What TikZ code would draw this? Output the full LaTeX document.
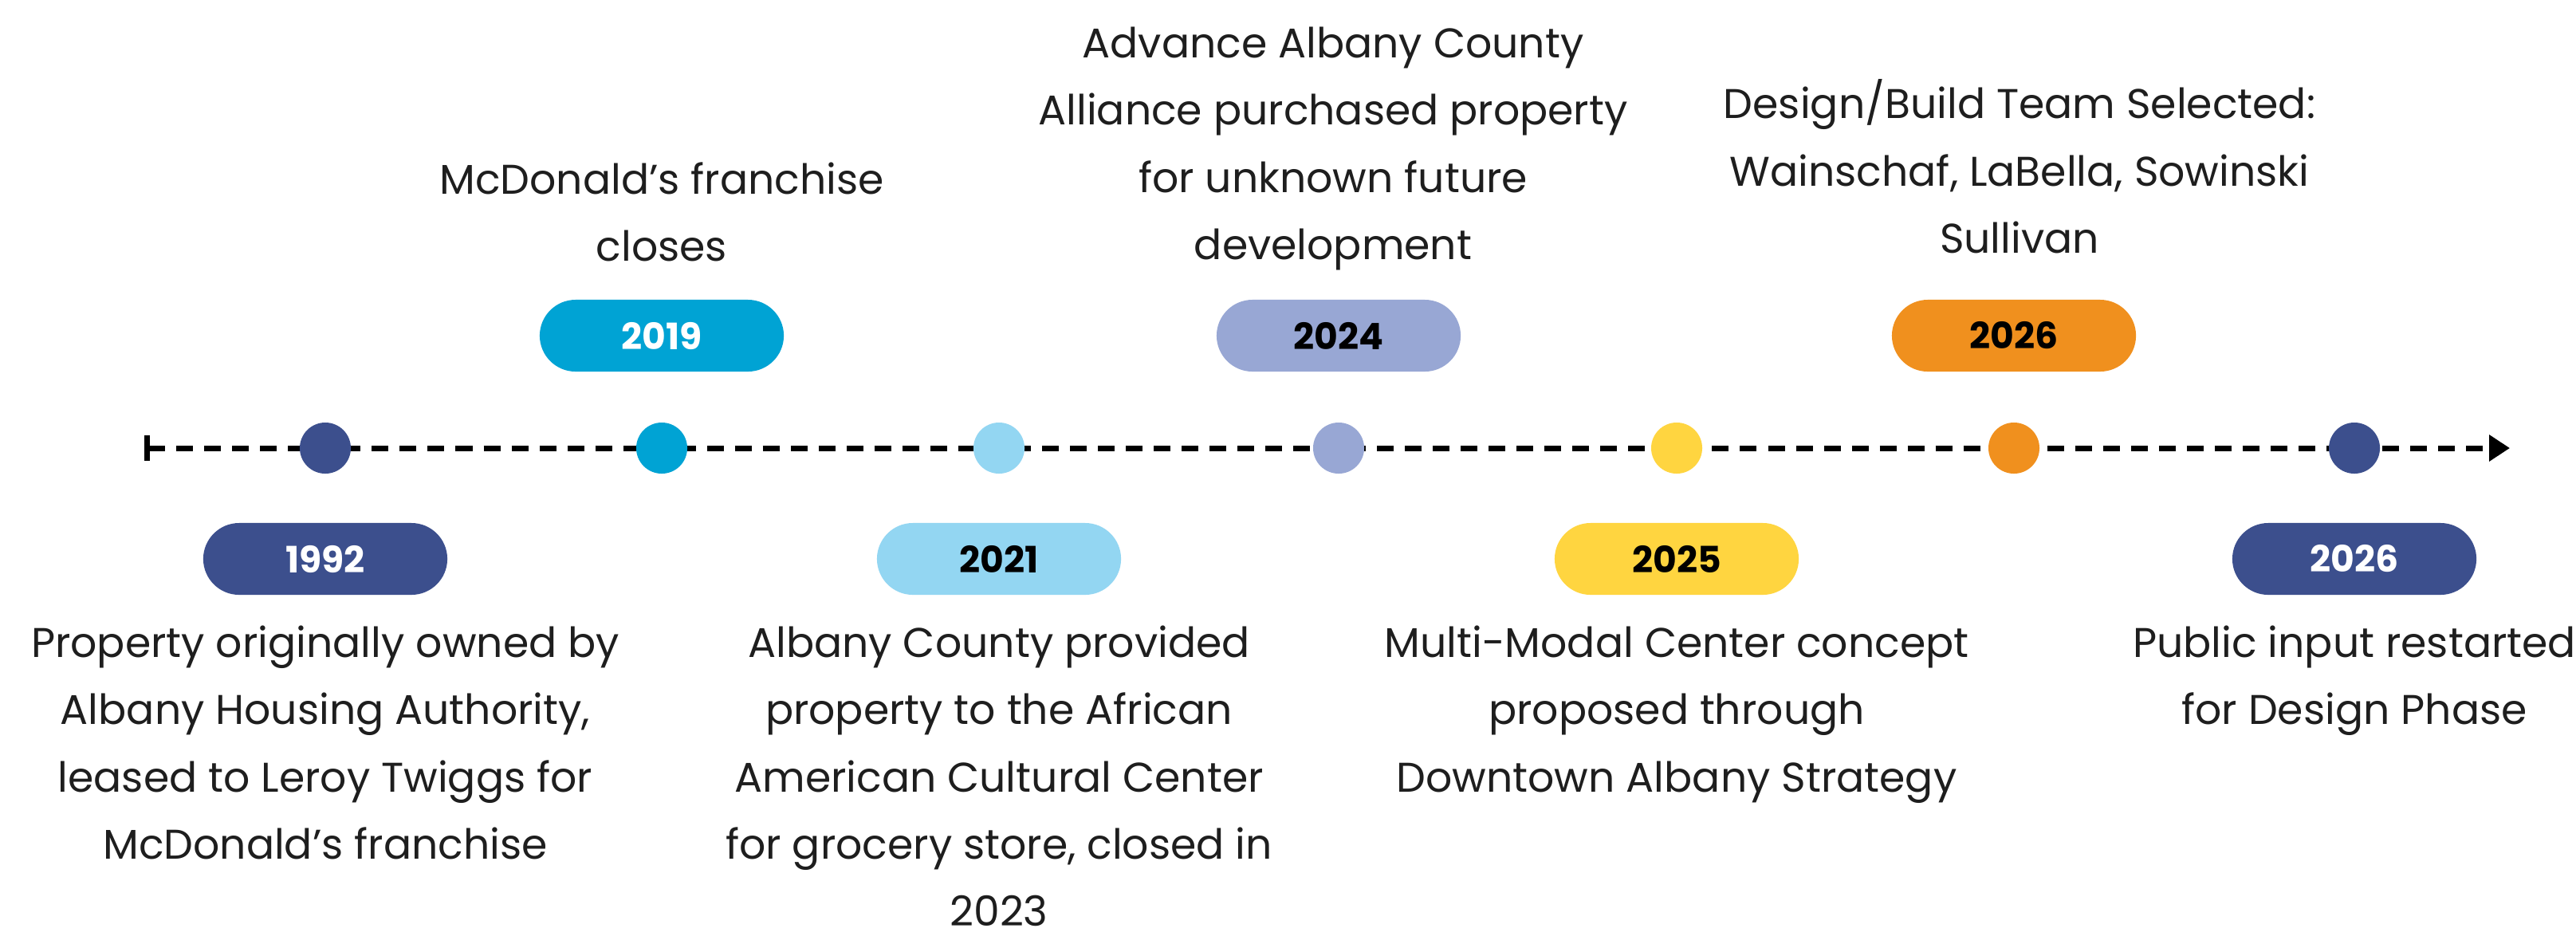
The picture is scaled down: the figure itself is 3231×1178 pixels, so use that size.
\documentclass[tikz,border=0pt]{standalone}
\usepackage{fontspec}
\setmainfont{Poppins}
\usetikzlibrary{arrows.meta}
\definecolor{navy}{HTML}{3C4F8D}
\definecolor{cyanb}{HTML}{00A3D4}
\definecolor{lightb}{HTML}{93D6F2}
\definecolor{lav}{HTML}{98A7D4}
\definecolor{yel}{HTML}{FFD540}
\definecolor{orng}{HTML}{F0901E}
\definecolor{txt}{HTML}{1E1E1E}
\begin{document}
\begin{tikzpicture}[x=0.01cm,y=-0.01cm,
  desc/.style={align=center, inner sep=0pt, anchor=north, text=txt, font=\fontsize{14.8}{24}\selectfont},
  pill/.style={rounded corners=0.45cm, minimum width=3.06cm, minimum height=0.9cm, inner sep=0pt, font=\fontsize{13}{15}\selectfont\bfseries},
  dot/.style={circle, minimum size=0.64cm, inner sep=0pt},
  timeline/.style={line width=0.07cm, dash pattern=on 0.21cm off 0.14cm, arrows={Bar[width=0.32cm]-Triangle[length=0.26cm,width=0.32cm]}}]
\fill[white] (0,0) rectangle (3231,1178);
\useasboundingbox (0,0) rectangle (3231,1178);
% timeline
\coordinate (tstart) at (181,562);
\coordinate (tend) at (3148,562);
\draw[timeline] (tstart) -- (tend);
% dots
\node[dot, fill=navy]   (d1) at (408,562) {};
\node[dot, fill=cyanb]  (d2) at (830,562) {};
\node[dot, fill=lightb] (d3) at (1253,562) {};
\node[dot, fill=lav]    (d4) at (1679,562) {};
\node[dot, fill=yel]    (d5) at (2103,562) {};
\node[dot, fill=orng]   (d6) at (2526,562) {};
\node[dot, fill=navy]   (d7) at (2953,562) {};
% pills
\node[pill, fill=navy, text=white]  (p1) at (408,701) {1992};
\node[pill, fill=cyanb, text=white] (p2) at (830,421) {2019};
\node[pill, fill=lightb, text=black] (p3) at (1253,701) {2021};
\node[pill, fill=lav, text=black]   (p4) at (1679,421) {2024};
\node[pill, fill=yel, text=black]   (p5) at (2103,701) {2025};
\node[pill, fill=orng, text=black]  (p6) at (2526,421) {2026};
\node[pill, fill=navy, text=white]  (p7) at (2953,701) {2026};
% descriptions
\node[desc] (t1) at (408,784) {Property originally owned by\\Albany Housing Authority,\\leased to Leroy Twiggs for\\McDonald's franchise};
\node[desc] (t2) at (830,203) {McDonald's franchise\\closes};
\node[desc] (t3) at (1253,784) {Albany County provided\\property to the African\\American Cultural Center\\for grocery store, closed in\\2023};
\node[desc] (t4) at (1672,33) {Advance Albany County\\Alliance purchased property\\for unknown future\\development};
\node[desc] (t5) at (2103,784) {Multi-Modal Center concept\\proposed through\\Downtown Albany Strategy};
\node[desc] (t6) at (2533,99) {Design/Build Team Selected:\\Wainschaf, LaBella, Sowinski\\Sullivan};
\node[desc] (t7) at (2953,784) {Public input restarted\\for Design Phase};
\end{tikzpicture}
\end{document}
